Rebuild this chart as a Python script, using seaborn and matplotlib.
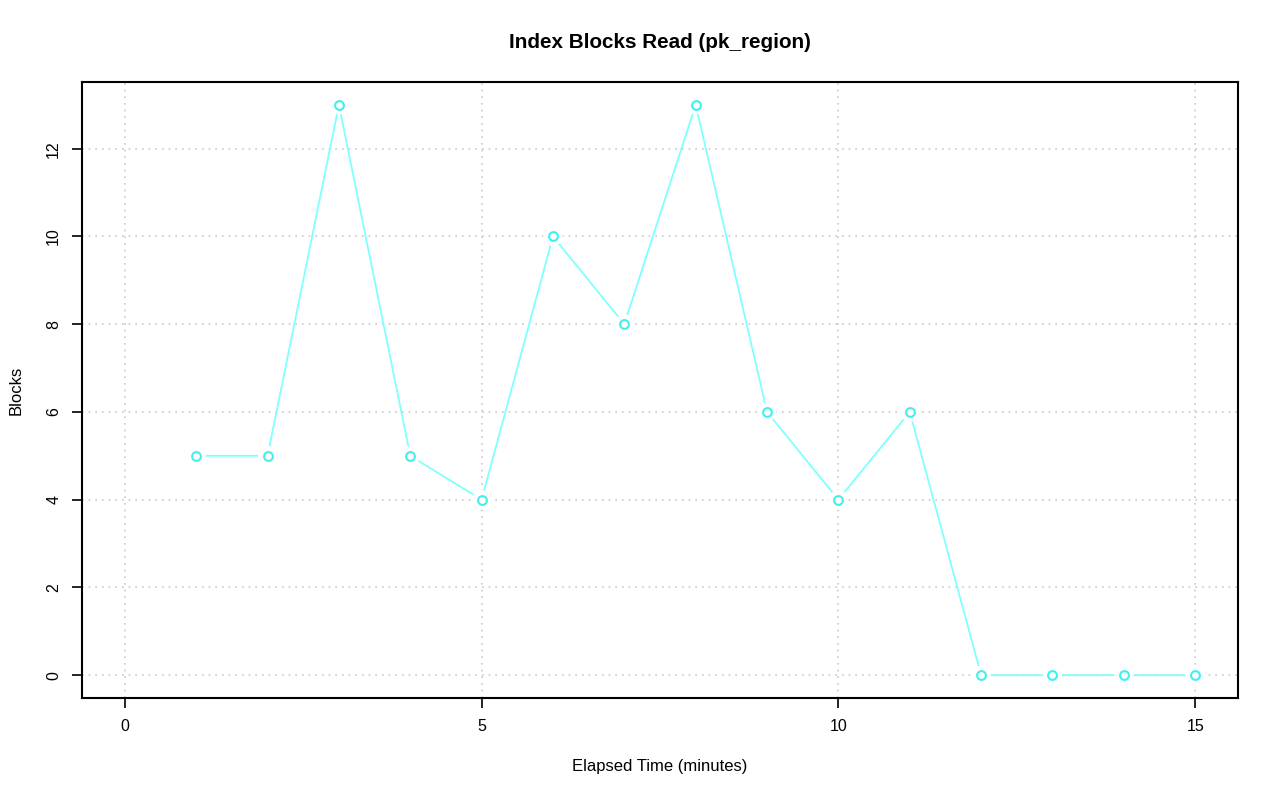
import numpy as np
import pandas as pd
import matplotlib
matplotlib.use("Agg")
import matplotlib.pyplot as plt
import seaborn as sns

# --- DATA ---
minutes = [1, 2, 3, 4, 5, 6, 7, 8, 9, 10, 11, 12, 13, 14, 15]
blocks = [5, 5, 13, 5, 4, 10, 8, 13, 6, 4, 6, 0, 0, 0, 0]
x_ticks = [0, 5, 10, 15]
y_ticks = [0, 2, 4, 6, 8, 10, 12]

LINE_COL = "#80FFFF"
MARK_COL = "#40F0F0"

sns.set_style("white")
plt.rcParams['font.family'] = ['Liberation Sans', 'DejaVu Sans']
plt.rcParams['text.color'] = 'black'
plt.rcParams['axes.labelcolor'] = 'black'
plt.rcParams['xtick.color'] = 'black'
plt.rcParams['ytick.color'] = 'black'

df = pd.DataFrame({"minutes": minutes, "blocks": blocks})

fig = plt.figure(figsize=(12.8, 8.01), dpi=100)
ax = fig.add_axes([82 / 1280, 1 - 698 / 801, (1238 - 82) / 1280, (698 - 82) / 801])

# grid first
for xv in x_ticks:
    ax.axvline(xv, color="#c8c8c8", linestyle=(0, (1, 3)), linewidth=1.2, zorder=0)
for yv in y_ticks:
    ax.axhline(yv, color="#c8c8c8", linestyle=(0, (1, 3)), linewidth=1.2, zorder=0)

sns.lineplot(data=df, x="minutes", y="blocks", color=LINE_COL, linewidth=1.3, ax=ax, zorder=2)
# white halo so the line stops short of each point (R type="b")
sns.scatterplot(data=df, x="minutes", y="blocks", s=190, color="white", edgecolor="none",
                ax=ax, zorder=3)
sns.scatterplot(data=df, x="minutes", y="blocks", s=40, facecolor="white", edgecolor=MARK_COL,
                linewidth=1.5, ax=ax, zorder=4)

ax.set_xlim(-0.6, 15.6)
ax.set_ylim(-0.52, 13.52)
ax.set_xticks(x_ticks)
ax.set_yticks(y_ticks)
ax.set_yticklabels([str(v) for v in y_ticks], rotation=90, va="center")
ax.tick_params(axis="both", direction="out", length=7, width=1.2, color="black",
               labelcolor="black", labelsize=11.5, pad=8, bottom=True, left=True)
for sp in ax.spines.values():
    sp.set_color("black")
    sp.set_linewidth(1.5)

ax.set_xlabel("Elapsed Time (minutes)", fontsize=12, labelpad=18, color="black")
ax.set_ylabel("Blocks", fontsize=12, labelpad=16, color="black")
fig.text(660 / 1280, 1 - 43 / 801, "Index Blocks Read (pk_region)", ha="center", va="center",
         fontsize=14.9, fontweight="bold", color="black")

fig.savefig("out.png", dpi=100)
